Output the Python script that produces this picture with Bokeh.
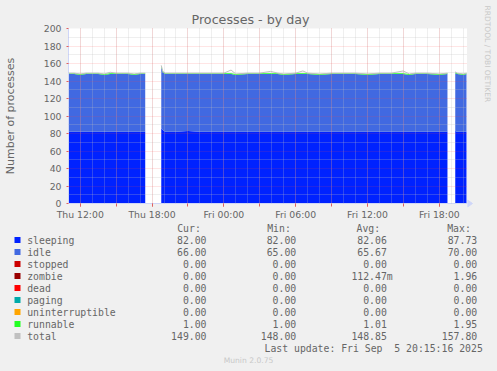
from math import pi
from datetime import datetime
import numpy as np
from bokeh.plotting import figure
from bokeh.layouts import column, row
from bokeh.models import (Range1d, FixedTicker, DatetimeTickFormatter, Grid, ColumnDataSource)
from bokeh.core.properties import value
from bokeh.embed import file_html
from bokeh.resources import INLINE

# ---------------- data ----------------
TITLE = "Processes - by day"
Y_LABEL = "Number of processes"

# hours since Thu 2025-09-04 00:00; three contiguous segments separated by data gaps
seg1_hours = [10.9, 11.5, 12.0, 12.5, 13.0, 13.5, 14.0, 14.5, 15.0, 15.5, 16.0, 16.5, 17.0, 17.43]
seg1_sleeping = [82, 82, 82, 82, 82, 82, 82, 82, 82, 82, 82, 82, 82, 82]
seg1_idle = [66, 66, 65, 66, 66, 66, 65, 66, 66, 66, 66, 65, 66, 66]
seg1_runnable = [1, 1, 1, 1, 1, 1, 1, 1, 1, 1, 1, 1, 1, 1]
seg1_total = [149, 149, 148, 149, 149, 149, 148, 150, 149, 149, 149, 148, 149, 149]

seg2_hours = [18.77, 18.9, 19.1, 20.0, 21.0, 22.0, 23.0, 24.0, 24.6, 25.0, 26.0, 27.0, 27.9, 28.5,
              29.0, 30.0, 30.6, 31.0, 32.0, 33.0, 34.0, 35.0, 36.0, 37.0, 38.0, 38.98, 39.5, 40.0,
              41.0, 42.0, 42.68]
seg2_sleeping = [86, 84, 82, 82, 83, 82, 82, 82, 82, 82, 82, 82, 82, 82, 82, 82, 82, 82, 82, 82,
                 82, 82, 82, 82, 82, 82, 82, 82, 82, 82, 82]
seg2_idle = [70, 66, 66, 66, 65, 66, 66, 66, 66, 65, 66, 66, 66, 66, 65, 66, 66, 66, 65, 66, 66,
             66, 65, 66, 66, 66, 65, 66, 66, 65, 66]
seg2_runnable = [1.8, 1, 1, 1, 1, 1, 1, 1, 1, 1, 1, 1, 1, 1, 1, 1, 1, 1, 1, 1, 1, 1, 1, 1, 1, 1, 1,
                 1, 1, 1, 1]
seg2_total = [157.8, 151, 149, 149, 149, 149, 149, 149, 152.5, 148, 149, 149, 151, 149, 148, 149,
              151.5, 149, 148, 149, 149, 149, 148, 149, 149, 151.5, 148, 149, 149, 148, 149]

seg3_hours = [43.33, 43.5, 44.0, 44.27]
seg3_sleeping = [83, 82, 82, 82]
seg3_idle = [66, 66, 65, 66]
seg3_runnable = [1, 1, 1, 1]
seg3_total = [150.5, 149, 148, 149]

legend_names = ["sleeping", "idle", "stopped", "zombie", "dead", "paging",
                "uninterruptible", "runnable", "total"]
legend_colors = ["#0022ff", "#4169e1", "#cc0000", "#990000", "#ff0000", "#00aaaa",
                 "#ffa500", "#22ff22", "#c0c0c0"]
legend_cur = ["82.00", "66.00", "0.00", "0.00", "0.00", "0.00", "0.00", "1.00", "149.00"]
legend_min = ["82.00", "65.00", "0.00", "0.00", "0.00", "0.00", "0.00", "1.00", "148.00"]
legend_avg = ["82.06", "65.67", "0.00", "112.47m", "0.00", "0.00", "0.00", "1.01", "148.85"]
legend_max = ["87.73", "70.00", "0.00", "1.96", "0.00", "0.00", "0.00", "1.95", "157.80"]
legend_headers = ["Cur:", "Min:", "Avg:", "Max:"]
last_update_parts = ["Last update: Fri Sep", "5 20:15:16 2025"]   # two spaces between them
version_text = "Munin 2.0.75"
side_text = "RRDTOOL / TOBI OETIKER"

x_label_hours = [12, 18, 24, 30, 36, 42]
y_ticks = [0, 20, 40, 60, 80, 100, 120, 140, 160, 180, 200]

# ---------------- layout ----------------
W, H = 497, 371
FL, FT, FW, FH = 67, 28, 400, 175
FB = FT + FH          # 203
MAIN_H = 223          # main chart strip height
SIDE_W = W - FL - FW  # 30

TXT = "#666666"
AXIS_C = "#cfd6f8"
BG = "#f0f0f0"
MONO = "DejaVu Sans Mono"
SANS = "DejaVu Sans"

BASE_MS = (datetime(2025, 9, 4) - datetime(1970, 1, 1)).total_seconds() * 1000.0


def hms(h):
    return BASE_MS + h * 3600000.0


x_start_h = 11.02
x_end_h = x_start_h + 2000.0 / 60.0

p = figure(width=FL + FW, height=MAIN_H, output_backend="svg", toolbar_location=None,
           x_axis_type="datetime",
           x_range=Range1d(hms(x_start_h), hms(x_end_h)), y_range=Range1d(0, 200),
           min_border_left=FL, min_border_right=0,
           min_border_top=FT, min_border_bottom=MAIN_H - FB)
p.background_fill_color = "white"
p.border_fill_color = BG
p.outline_line_color = None
p.xgrid.visible = False
p.ygrid.visible = False

p.title.text = TITLE
p.title.align = "left"
p.title.offset = 190 - FL
p.title.standoff = 4
p.title.text_font = SANS
p.title.text_font_size = "12.7px"
p.title.text_font_style = "normal"
p.title.text_color = TXT

# stacked areas
segments = [
    (seg1_hours, seg1_sleeping, seg1_idle, seg1_runnable, seg1_total),
    (seg2_hours, seg2_sleeping, seg2_idle, seg2_runnable, seg2_total),
    (seg3_hours, seg3_sleeping, seg3_idle, seg3_runnable, seg3_total),
]
for hrs, sl, idl, rn, tot in segments:
    sl = np.array(sl, float)
    idl = np.array(idl, float)
    rn = np.array(rn, float)
    src = ColumnDataSource(dict(x=[hms(h) for h in hrs], s=sl, si=sl + idl,
                                sir=sl + idl + rn, tot=np.array(tot, float)))
    p.varea(x="x", y1=0, y2="s", source=src, fill_color=legend_colors[0])
    p.varea(x="x", y1="s", y2="si", source=src, fill_color=legend_colors[1])
    p.varea(x="x", y1="si", y2="sir", source=src, fill_color=legend_colors[7])
    p.line(x="x", y="tot", source=src, line_color=legend_colors[8], line_width=1)

# grids (drawn over the data, like rrdtool)
hour_ticks = [hms(h) for h in range(12, 45)]
three_h_ticks = [hms(h) for h in range(12, 45, 3)]
label_ticks = [hms(h) for h in x_label_hours]
for dim, ticks, color, alpha in [
        (0, hour_ticks, "#c0c0c0", 0.5),
        (1, list(range(10, 200, 20)), "#c0c0c0", 0.5),
        (0, three_h_ticks, "#ff4040", 0.28),
        (1, y_ticks[1:], "#ff4040", 0.28)]:
    g = Grid(dimension=dim, ticker=FixedTicker(ticks=ticks), grid_line_color=color,
             grid_line_alpha=alpha, grid_line_dash="1 1", grid_line_width=1, level="overlay")
    p.add_layout(g)

# axes
p.xaxis.ticker = FixedTicker(ticks=label_ticks, minor_ticks=three_h_ticks)
fmt = "%a %H:%M"
p.xaxis.formatter = DatetimeTickFormatter(hours=fmt, hourmin=fmt, days=fmt, minutes=fmt,
                                          minsec=fmt, seconds=fmt, months=fmt, years=fmt)
p.yaxis.ticker = FixedTicker(ticks=y_ticks, minor_ticks=list(range(10, 200, 20)))
for ax in (p.xaxis[0], p.yaxis[0]):
    ax.axis_line_color = AXIS_C
    ax.major_label_text_font = SANS
    ax.major_label_text_font_size = "9.3px"
    ax.major_label_text_color = TXT
    ax.major_tick_line_color = "#e06060"
    ax.minor_tick_line_color = "#e06060"
    ax.major_tick_in = 0
    ax.minor_tick_in = 0
p.xaxis.major_tick_out = 3
p.xaxis.minor_tick_out = 3
p.xaxis.major_label_standoff = 2
p.yaxis.major_tick_out = 2
p.yaxis.minor_tick_out = 0
p.yaxis.major_label_standoff = 5
p.yaxis.axis_label = Y_LABEL
p.yaxis.axis_label_text_font = SANS
p.yaxis.axis_label_text_font_size = "11px"
p.yaxis.axis_label_text_font_style = "normal"
p.yaxis.axis_label_text_color = TXT
p.yaxis.axis_label_standoff = 24


def blank(fig):
    fig.xaxis.visible = False
    fig.yaxis.visible = False
    fig.xgrid.visible = False
    fig.ygrid.visible = False
    fig.background_fill_color = BG
    fig.border_fill_color = BG
    fig.outline_line_color = None
    fig.min_border = 0
    fig.min_border_left = 0
    fig.min_border_right = 0
    fig.min_border_top = 0
    fig.min_border_bottom = 0


# right strip: x-axis arrow and rrdtool credit (pixel coordinates, y = -row)
side = figure(width=SIDE_W, height=MAIN_H, output_backend="svg", toolbar_location=None,
              title=None, x_range=Range1d(FL + FW, W), y_range=Range1d(-MAIN_H, 0))
blank(side)
side.patch(x=[FL + FW, FL + FW + 5, FL + FW], y=[-(FB - 3.5), -FB, -(FB + 3.5)],
           fill_color=AXIS_C, line_color=AXIS_C)
side.text(x=[487.3], y=[-53.3], text=[side_text], angle=-pi / 2, text_font=value(SANS),
          text_font_size="7.5px", text_color="#c8c8c8", text_align="center",
          text_baseline="middle")

# legend strip (pixel coordinates, y = -row)
leg = figure(width=W, height=H - MAIN_H, output_backend="svg", toolbar_location=None,
             title=None, x_range=Range1d(0, W), y_range=Range1d(-H, -MAIN_H))
blank(leg)
CW = 0.602 * 9.8
rows_py = [239.5 + 12 * i for i in range(len(legend_names))]
col_edges = [206.0, 295.7, 386.3, 476.7]
header_x = [176.7, 266.7, 356.0, 446.7]
font_kw = dict(text_font=value(MONO), text_font_size="9.8px", text_color=TXT,
               text_baseline="middle")
leg.text(x=header_x, y=[-227.5] * 4, text=legend_headers, text_align="left", **font_kw)
leg.text(x=[26.7] * len(legend_names), y=[-v for v in rows_py], text=legend_names,
         text_align="left", **font_kw)
for edge, col in zip(col_edges, [legend_cur, legend_min, legend_avg, legend_max]):
    xs = [edge + (CW if s[-1].isalpha() else 0.0) for s in col]
    leg.text(x=xs, y=[-v for v in rows_py], text=col, text_align="right", **font_kw)
leg.quad(left=[14] * len(rows_py), right=[20] * len(rows_py),
         top=[-(v - 3) for v in rows_py], bottom=[-(v + 3) for v in rows_py],
         fill_color=legend_colors, line_color=None)
lu_right = 482.3
lu_x = [lu_right - (len(last_update_parts[1]) + 2 + len(last_update_parts[0])) * CW,
        lu_right - len(last_update_parts[1]) * CW]
leg.text(x=lu_x, y=[-347.5, -347.5], text=last_update_parts, text_align="left", **font_kw)
leg.text(x=[248], y=[-360], text=[version_text], text_font=value(SANS),
         text_font_size="7.6px", text_color="#c8c8c8", text_align="center",
         text_baseline="middle")

layout = column(row(p, column(side, spacing=0), spacing=0), leg, spacing=0)

html = file_html(layout, INLINE, title=TITLE)
html = html.replace("</head>",
                    "<style>html, body {margin: 0; padding: 0; background: #f0f0f0;}</style>\n</head>", 1)
open("out.html", "w").write(html)
